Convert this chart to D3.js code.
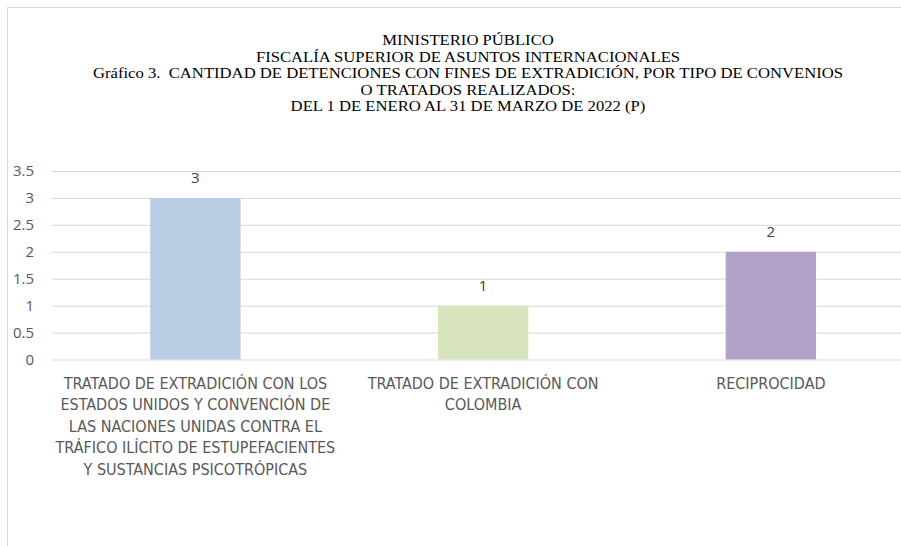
<!DOCTYPE html>
<html>
<head>
<meta charset="utf-8">
<script src="https://cdn.jsdelivr.net/npm/d3@7"></script>
<style>
  body{margin:0;background:#fff;}
  svg{display:block;}
</style>
</head>
<body>
<div id="chart"></div>
<script>
const titleLines=["MINISTERIO PÚBLICO","FISCALÍA SUPERIOR DE ASUNTOS INTERNACIONALES",
  "Gráfico 3.  CANTIDAD DE DETENCIONES CON FINES DE EXTRADICIÓN, POR TIPO DE CONVENIOS",
  "O TRATADOS REALIZADOS:","DEL 1 DE ENERO AL 31 DE MARZO DE 2022 (P)"];
const categories=["TRATADO DE EXTRADICIÓN CON LOS\nESTADOS UNIDOS Y CONVENCIÓN DE\nLAS NACIONES UNIDAS CONTRA EL\nTRÁFICO ILÍCITO DE ESTUPEFACIENTES\nY SUSTANCIAS PSICOTRÓPICAS",
  "TRATADO DE EXTRADICIÓN CON\nCOLOMBIA","RECIPROCIDAD"];
const values=[3,1,2];
const barColors=["#b9cde5","#d7e4bd","#b3a2c7"];
const yTicks=[0,0.5,1,1.5,2,2.5,3,3.5];

const opt={width:901,height:546,left:51.5,right:914.75,top:171,bottom:359.5}

const svg=d3.select("#chart").append("svg")
  .attr("width",opt.width)
  .attr("height",opt.height)

// chart border
svg.append("rect")
  .attr("x",7.5).attr("y",7.5)
  .attr("width",940).attr("height",600)
  .attr("fill","none").attr("stroke","#d9d9d9")

// title, stretched a bit wider like the original
svg.append("g")
  .attr("transform","translate(468,0) scale(1.19,1)")
  .selectAll("text")
  .data(titleLines)
  .enter()
  .append("text")
  .attr("x",0)
  .attr("y",(d,i)=>45+i*16.6)
  .attr("text-anchor","middle")
  .attr("font-family","'Liberation Serif', serif")
  .attr("font-size","14px")
  .style("white-space","pre")
  .attr("fill","#000")
  .text(d=>d)

const xScale=d3.scaleBand()
  .domain(categories)
  .range([opt.left,opt.right])
  .paddingInner(0.686)
  .paddingOuter(0.343)

const yScale=d3.scaleLinear()
  .domain([0,3.5])
  .range([opt.bottom,opt.top])

// gridlines
svg.append("g")
  .attr("transform","translate("+opt.left+",0)")
  .call(d3.axisLeft(yScale).tickValues(yTicks).tickSize(-(opt.right-opt.left)).tickFormat(""))
  .call(g=>g.select(".domain").remove())
  .call(g=>g.selectAll("line").attr("stroke","#d9d9d9").attr("stroke-width",1))

// y tick labels
svg.append("g")
  .attr("transform","translate(34,0)")
  .call(d3.axisLeft(yScale).tickValues(yTicks).tickSize(0).tickPadding(0).tickFormat(d3.format("")))
  .call(g=>g.select(".domain").remove())
  .call(g=>g.selectAll("text").attr("font-family","'Open Sans', sans-serif").attr("font-size","15px").attr("fill","#595959"))

svg.append("g").selectAll("rect")
  .data(values)
  .enter()
  .append("rect")
  .attr("x",(d,i)=>xScale(categories[i]))
  .attr("width",xScale.bandwidth())
  .attr("y",d=>yScale(d))
  .attr("height",d=>yScale(0)-yScale(d))
  .attr("fill",(d,i)=>barColors[i])

svg.append("g").selectAll("text")
  .data(values)
  .enter()
  .append("text")
  .attr("x",(d,i)=>xScale(categories[i])+xScale.bandwidth()/2)
  .attr("y",d=>yScale(d)-15)
  .attr("text-anchor","middle")
  .attr("font-family","'Open Sans', sans-serif")
  .attr("font-size","15px")
  .attr("fill","#404040")
  .text(d=>d)

// category labels, wrapped
const xAxis=svg.append("g")
  .attr("transform","translate(0,"+opt.bottom+")")
  .call(d3.axisBottom(xScale).tickSize(0).tickFormat(""))
xAxis.select(".domain").remove()
xAxis.selectAll(".tick").each(function(d){
  const lines=d.split("\n")
  d3.select(this).selectAll("text.lbl")
    .data(lines)
    .enter()
    .append("text")
    .attr("class","lbl")
    .attr("y",(l,i)=>29+i*21.5)
    .attr("text-anchor","middle")
    .attr("font-family","'DejaVu Sans Condensed', sans-serif")
    .attr("font-size","16px")
    .attr("fill","#595959")
    .text(l=>l)
})
</script>
</body>
</html>
